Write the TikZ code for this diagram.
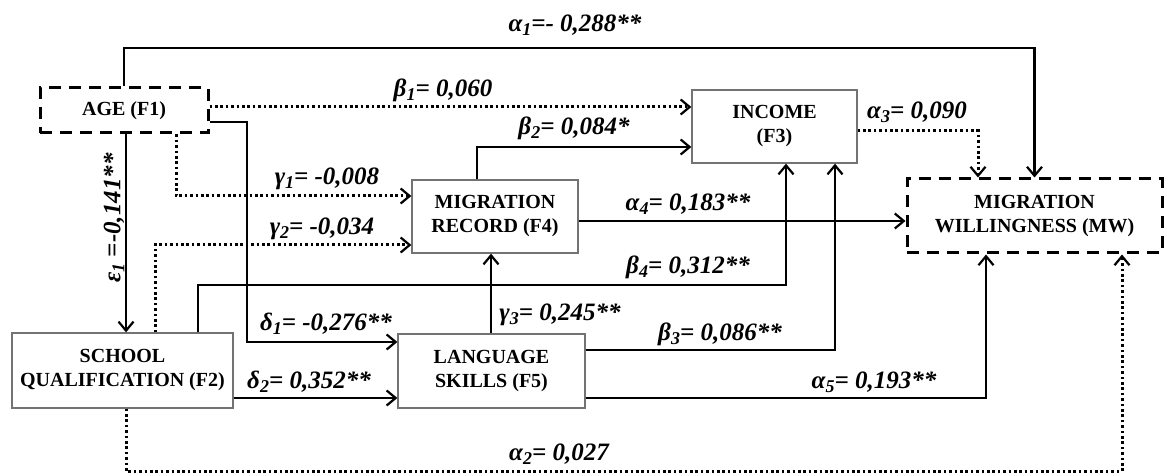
\documentclass[tikz,border=0pt]{standalone}
\usepackage{fontspec}
\setmainfont{Liberation Serif}
\usetikzlibrary{arrows.meta}
\newcommand{\boxfont}{\fontsize{20}{24}\selectfont\bfseries}
\newcommand{\labfont}{\fontsize{25}{27}\selectfont\bfseries\itshape}
\newcommand{\lsub}[1]{\raisebox{-0.35ex}{\fontsize{18}{18}\selectfont #1}}
\tikzset{
  box/.style={draw=black!55, line width=1.3pt, fill=white, font=\boxfont, align=center, inner sep=0pt},
  dbox/.style={draw=black, line width=3pt, dash pattern=on 12pt off 8pt, fill=white, font=\boxfont, align=center, inner sep=0pt},
  conn/.style={line width=2.6pt, -{Straight Barb[length=9pt,width=15pt,line width=2.2pt]}},
  dotconn/.style={conn, line width=3pt, dash pattern=on 2.6pt off 2.8pt},
  lab/.style={font=\labfont, inner sep=0pt}
}
\begin{document}
\begin{tikzpicture}[x=1pt,y=-1pt]
\fill[white] (0,0) rectangle (1165,473);
\useasboundingbox (0,0) rectangle (1165,473);
% boxes
\node[dbox, minimum width=168pt, minimum height=45pt] (age) at (124,110.5) {AGE (F1)};
\node[box, minimum width=221pt, minimum height=75pt] (sch) at (122.5,370.5) {SCHOOL\\QUALIFICATION (F2)};
\node[box, minimum width=187pt, minimum height=74pt] (lang) at (491.5,371) {LANGUAGE\\SKILLS (F5)};
\node[box, minimum width=166pt, minimum height=73pt] (mr) at (495,216.5) {MIGRATION\\RECORD (F4)};
\node[box, minimum width=165pt, minimum height=73pt] (inc) at (774.5,126.5) {INCOME\\(F3)};
\node[dbox, minimum width=255pt, minimum height=74pt] (mw) at (1034.5,216) {MIGRATION\\WILLINGNESS (MW)};
% connectors
\draw[conn] (age.north) -- (age.north |- 0,48) -| (mw.north);
\draw[dotconn] (age.east |- 0,107) -- (inc.west |- 0,107);
\draw[conn] (age.east |- 0,122) -- (247,122) -- (247,342) -- (lang.west |- 0,342);
\draw[dotconn] (176,0 |- age.south) -- (176,196) -- (mr.west |- 0,196);
\draw[dotconn] (155,0 |- sch.north) -- (155,245) -- (mr.west |- 0,245);
\draw[conn] (126,0 |- age.south) -- (126,0 |- sch.north);
\draw[conn] (198,0 |- sch.north) -- (198,285) -- (786,285) -- (786,0 |- inc.south);
\draw[conn] (477,0 |- mr.north) -- (477,147) -- (inc.west |- 0,147);
\draw[conn] (mr.east |- 0,221) -- (mw.west |- 0,221);
\draw[conn] (491,0 |- lang.north) -- (491,0 |- mr.south);
\draw[conn] (lang.east |- 0,350) -- (835,350) -- (835,0 |- inc.south);
\draw[conn] (lang.east |- 0,398) -- (986,398) -- (986,0 |- mw.south);
\draw[conn] (sch.east |- 0,398) -- (lang.west |- 0,398);
\draw[dotconn] (126,0 |- sch.south) -- (126,471) -- (1122,471) -- (1122,0 |- mw.south);
\draw[dotconn] (inc.east |- 0,131) -- (978,131) -- (978,0 |- mw.north);
% labels
\node[lab] (la1) at (575,25) {α\lsub{1}=- 0,288**};
\node[lab] (lb1) at (443,90) {β\lsub{1}= 0,060};
\node[lab] (lb2) at (574,128) {β\lsub{2}= 0,084*};
\node[lab] (lg1) at (327,179) {γ\lsub{1}= -0,008};
\node[lab] (lg2) at (322,229) {γ\lsub{2}= -0,034};
\node[lab] (la4) at (688,204) {α\lsub{4}= 0,183**};
\node[lab] (lb4) at (688,267) {β\lsub{4}= 0,312**};
\node[lab] (lg3) at (560,315) {γ\lsub{3}= 0,245**};
\node[lab] (lb3) at (720,334) {β\lsub{3}= 0,086**};
\node[lab] (ld1) at (326,324) {δ\lsub{1}= -0,276**};
\node[lab] (ld2) at (309,382) {δ\lsub{2}= 0,352**};
\node[lab] (la5) at (874,382) {α\lsub{5}= 0,193**};
\node[lab] (la2) at (559,454) {α\lsub{2}= 0,027};
\node[lab] (la3) at (917,112) {α\lsub{3}= 0,090};
\node[lab, rotate=90] (le1) at (114,218) {ε\lsub{1} =-0,141**};
\end{tikzpicture}
\end{document}
